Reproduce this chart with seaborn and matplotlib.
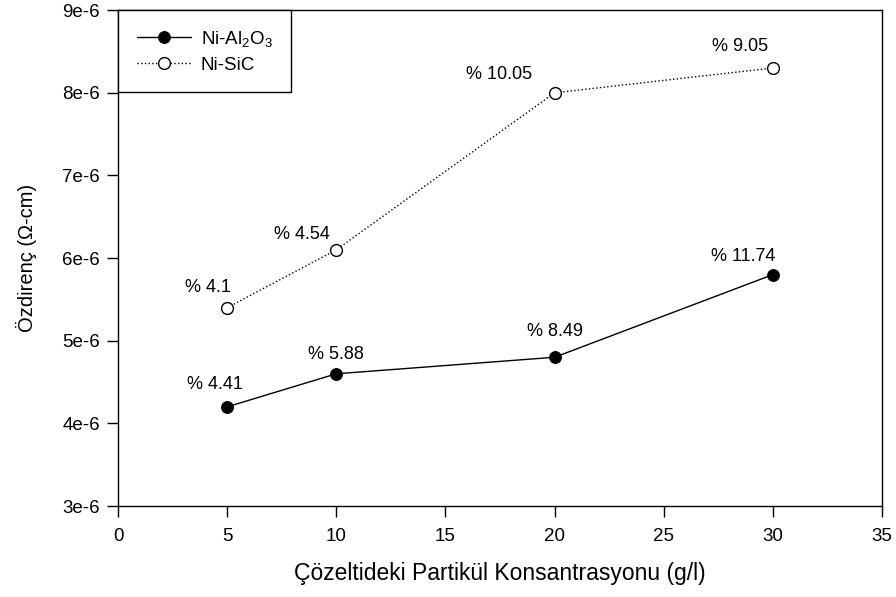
import matplotlib
matplotlib.use("Agg")
import matplotlib.pyplot as plt
import seaborn as sns
import pandas as pd
from matplotlib.ticker import FuncFormatter

sns.set_theme(style="ticks")
plt.rcParams['font.family'] = ['Liberation Sans', 'DejaVu Sans']
plt.rcParams['mathtext.fontset'] = 'custom'
plt.rcParams['mathtext.rm'] = 'Liberation Sans'
plt.rcParams['mathtext.it'] = 'Liberation Sans'
plt.rcParams['text.color'] = 'black'
plt.rcParams['axes.labelcolor'] = 'black'

# data
conc = [5, 10, 20, 30]
al2o3 = [4.2e-6, 4.6e-6, 4.8e-6, 5.8e-6]
sic = [5.4e-6, 6.1e-6, 8.0e-6, 8.3e-6]
al2o3_labels = ["% 4.41", "% 5.88", "% 8.49", "% 11.74"]
sic_labels = ["% 4.1", "% 4.54", "% 10.05", "% 9.05"]

df_al = pd.DataFrame({"x": conc, "y": al2o3})
df_sic = pd.DataFrame({"x": conc, "y": sic})

fig = plt.figure(figsize=(8.96, 5.97), dpi=100)
ax = fig.add_axes([0.1317, 0.1524, 0.8527, 0.8306])

sns.lineplot(data=df_al, x="x", y="y", ax=ax, color="black", lw=1,
             marker="o", markersize=8.5, markerfacecolor="black",
             markeredgecolor="black", label=r"Ni-Al$_2$O$_3$")
sns.lineplot(data=df_sic, x="x", y="y", ax=ax, color="black", lw=1,
             linestyle=":", marker="o", markersize=8.5, markerfacecolor="white",
             markeredgecolor="black", markeredgewidth=1, label="Ni-SiC")

# percentage labels (pixel offsets from each point)
al_off = [(-12, 22), (0, 19), (0, 26), (-30, 18)]
sic_off = [(-19, 20), (-34, 15), (-56, 18), (-33, 22)]
for x, y, t, o in zip(conc, al2o3, al2o3_labels, al_off):
    ax.annotate(t, (x, y), xytext=o, textcoords="offset pixels",
                ha="center", va="center", fontsize=13, color="black")
for x, y, t, o in zip(conc, sic, sic_labels, sic_off):
    ax.annotate(t, (x, y), xytext=o, textcoords="offset pixels",
                ha="center", va="center", fontsize=13, color="black")

ax.set_xlim(0, 35)
ax.set_ylim(3e-6, 9e-6)
ax.set_xticks([0, 5, 10, 15, 20, 25, 30, 35])
ax.set_yticks([3e-6, 4e-6, 5e-6, 6e-6, 7e-6, 8e-6, 9e-6])
ax.yaxis.set_major_formatter(FuncFormatter(lambda v, p: "%de-6" % round(v * 1e6)))
ax.tick_params(direction="out", length=8, width=1, colors="black",
               labelsize=13.5)
ax.tick_params(axis="x", pad=8)
ax.tick_params(axis="y", pad=5)
for s in ax.spines.values():
    s.set_color("black")
    s.set_linewidth(1)

ax.set_xlabel("Çözeltideki Partikül Konsantrasyonu (g/l)", fontsize=16.5, labelpad=12)
ax.set_ylabel("Özdirenç (Ω-cm)", fontsize=14.5, labelpad=18)

leg = ax.legend(loc="upper left", borderaxespad=0, fancybox=False,
                edgecolor="black", framealpha=1, fontsize=13.5,
                handlelength=2.9, borderpad=1.0, labelspacing=0.4,
                handletextpad=0.5)
leg.get_frame().set_linewidth(1)

fig.savefig("out.png", dpi=100)
